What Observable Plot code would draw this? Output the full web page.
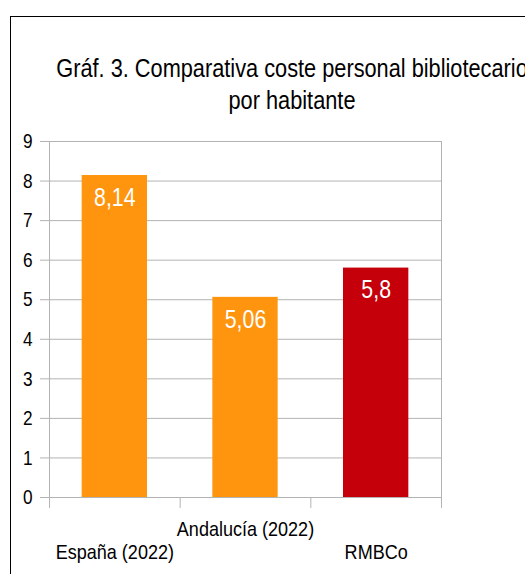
<!DOCTYPE html>
<html>
<head>
<meta charset="utf-8">
<script src="https://cdn.jsdelivr.net/npm/d3@7"></script>
<script src="https://cdn.jsdelivr.net/npm/@observablehq/plot@0.6"></script>
<style>
  html, body { margin: 0; padding: 0; background: #fff; }
  #wrap { position: relative; width: 525px; height: 574px; overflow: hidden; font-family: "Liberation Sans", Arial, sans-serif; }
  #border { position: absolute; left: 10px; top: 16px; width: 700px; height: 700px; border: 1px solid #000; box-sizing: border-box; }
  #title { position: absolute; left: 0; top: 52px; width: 584px; text-align: center; font-size: 25px; line-height: 32px; color: #000; white-space: nowrap; transform: scaleX(0.87); transform-origin: 292px 0; }
  #chart { position: absolute; left: 0; top: 120px; }
</style>
</head>
<body>
<div id="wrap">
  <div id="border"></div>
  <div id="title">Gráf. 3. Comparativa coste personal bibliotecario<br>por habitante</div>
  <div id="chart"></div>
</div>
<script>
const categories = ["España (2022)", "Andalucía (2022)", "RMBCo"];
const values = [8.14, 5.06, 5.8];
const barColors = ["#ff950e", "#ff950e", "#c5000b"];
const yTicks = [0, 1, 2, 3, 4, 5, 6, 7, 8, 9];

const data = categories.map((c, i) => ({i, category: c, value: values[i], color: barColors[i]}));
const fmt = v => String(v).replace(".", ",");
const font = "'Liberation Sans', Arial, sans-serif";

const chart = Plot.plot({
  width: 525,
  height: 454,
  marginTop: 21,
  marginBottom: 77,
  marginLeft: 49,
  marginRight: 84,
  style: {fontFamily: font, background: "transparent", overflow: "visible"},
  x: {type: "linear", domain: [0, categories.length], axis: null},
  y: {domain: [0, 9], axis: null},
  marks: [
    Plot.ruleY(yTicks, {y: d => d, stroke: "#b3b3b3", strokeWidth: 1}),
    Plot.frame({stroke: "#b3b3b3"}),
    Plot.axisY({ticks: yTicks, tickSize: 9, tickPadding: 8, stroke: "#b3b3b3", fill: "#000", fontSize: 21, label: null, tickFormat: d => String(d)}),
    Plot.axisX({ticks: d3.range(categories.length + 1), tickSize: 11, tickFormat: () => "", label: null, stroke: "#b3b3b3"}),
    Plot.rectY(data, {x1: d => d.i + 0.25, x2: d => d.i + 0.75, y: "value", fill: d => d.color}),
    Plot.text(data, {x: d => d.i + 0.5, y: "value", text: d => fmt(d.value), dy: 22, fill: "#fff", fontSize: 26, lineAnchor: "middle"}),
    Plot.text(data.filter(d => d.i % 2 === 0), {x: d => d.i + 0.5, y: () => 0, text: "category", dy: 55, fill: "#000", fontSize: 20.5, lineAnchor: "middle"}),
    Plot.text(data.filter(d => d.i % 2 === 1), {x: d => d.i + 0.5, y: () => 0, text: "category", dy: 32, fill: "#000", fontSize: 20.5, lineAnchor: "middle"})
  ]
});
document.getElementById("chart").appendChild(chart);

// condensed rendering of the text, as in the reference
const squeeze = {"21px": 0.82, "26px": 0.82, "20.5px": 0.88};
chart.querySelectorAll("text").forEach(t => {
  const k = squeeze[getComputedStyle(t).fontSize];
  if (!k) return;
  const tr = t.getAttribute("transform");
  if (tr) {
    t.setAttribute("transform", tr + ` scale(${k},1)`);
  } else {
    const x = +(t.getAttribute("x") || 0), y = +(t.getAttribute("y") || 0);
    t.removeAttribute("x"); t.removeAttribute("y");
    t.setAttribute("transform", `translate(${x},${y}) scale(${k},1)`);
  }
});
</script>
</body>
</html>
